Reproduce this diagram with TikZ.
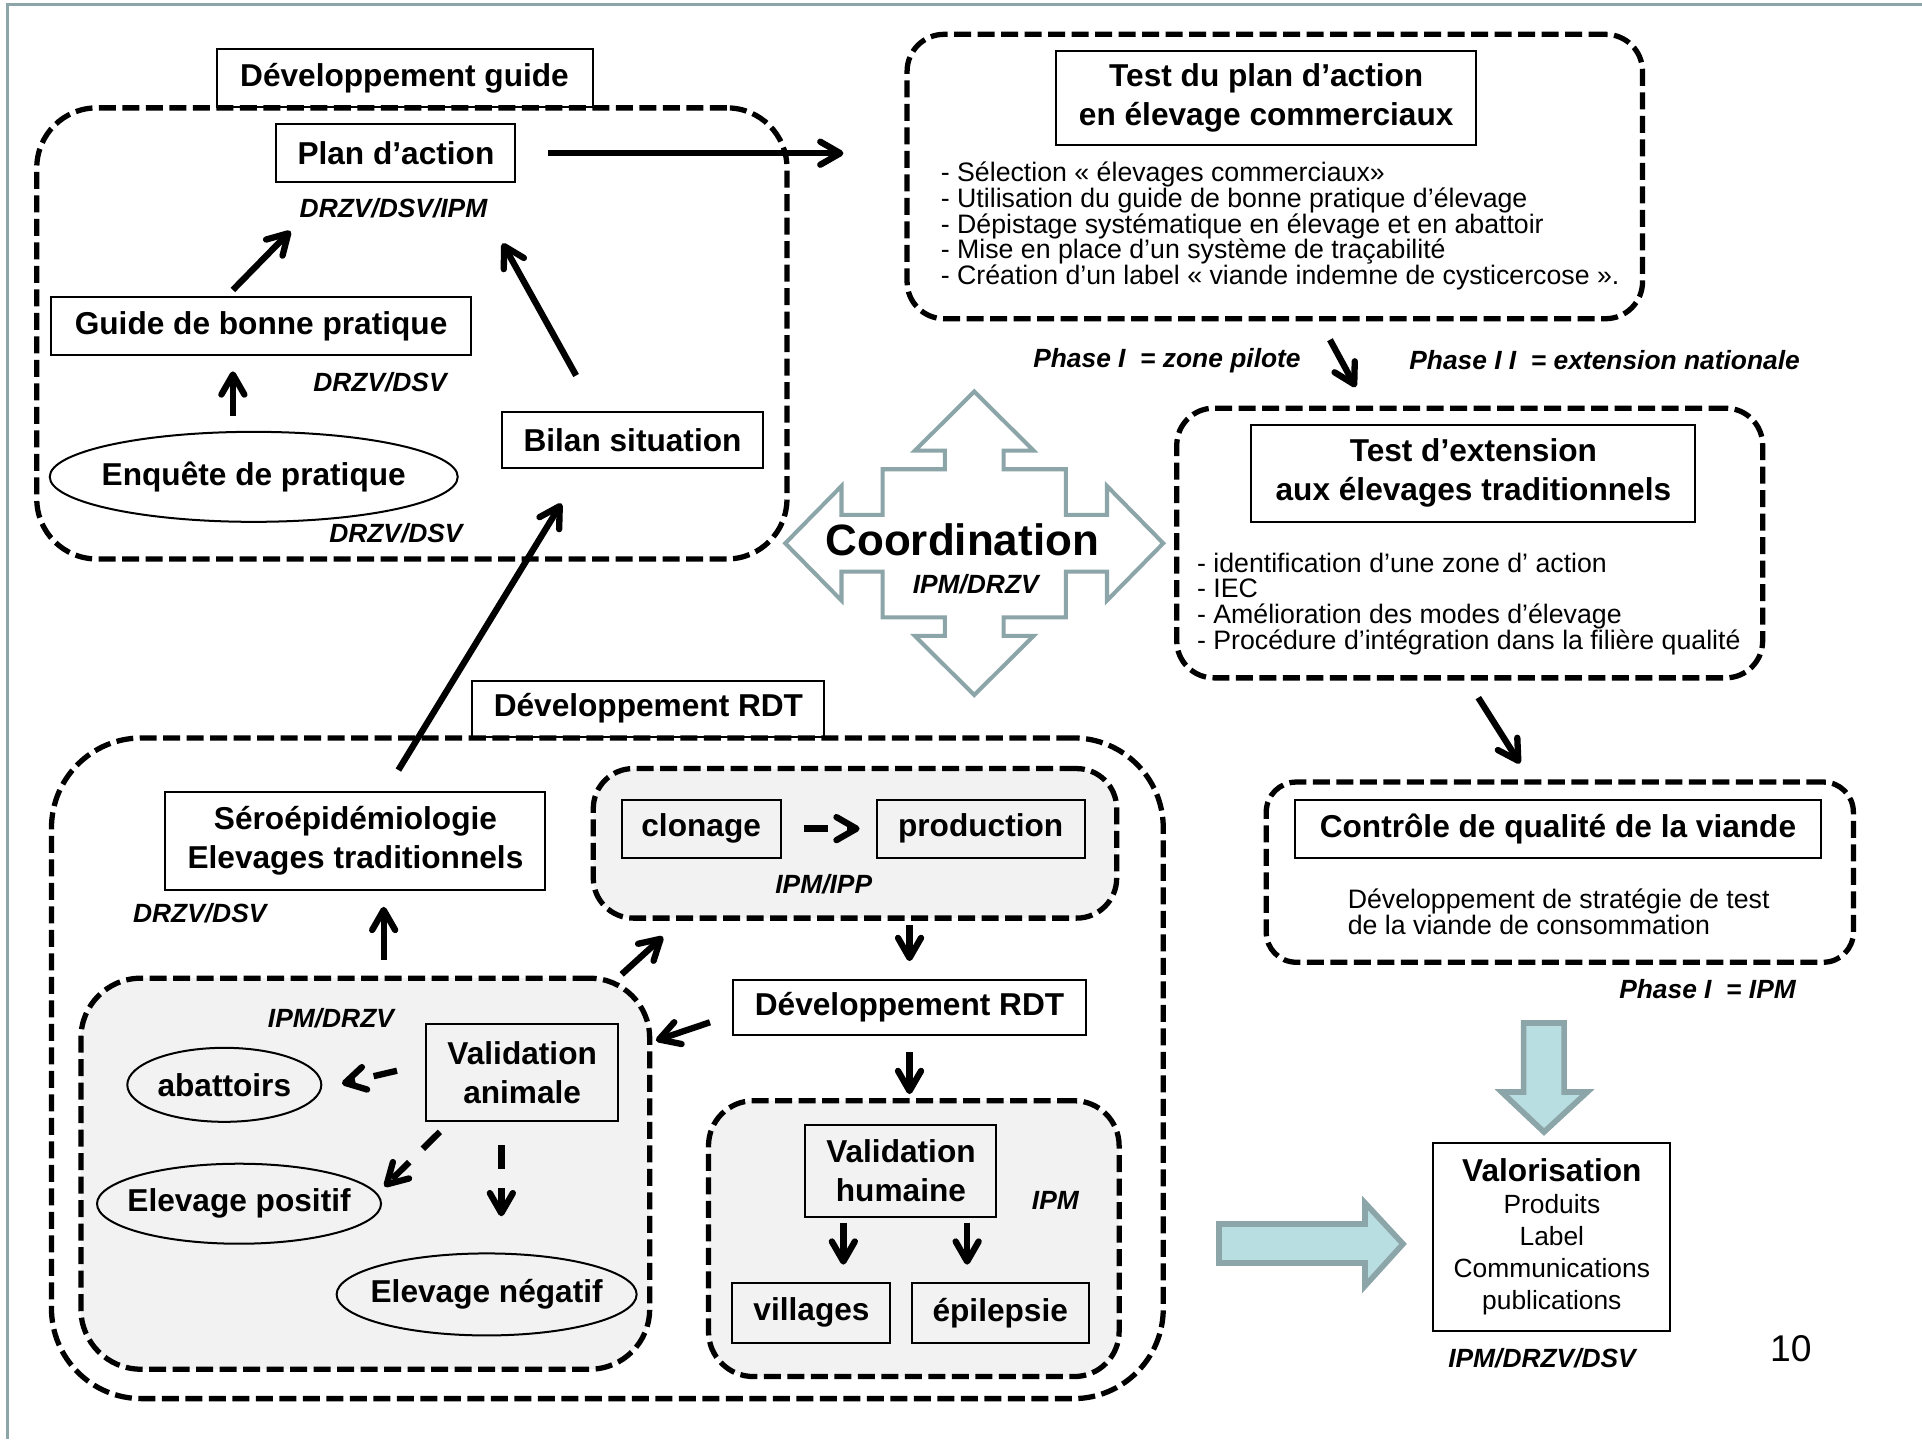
\documentclass[tikz,border=0pt]{standalone}
\usepackage{fontspec}
\setmainfont{Liberation Sans}
\usetikzlibrary{arrows.meta, shapes.geometric, fit, calc}
\definecolor{framecol}{HTML}{8CA5A8}
\definecolor{arrowfill}{HTML}{B9DEE2}
\definecolor{grpgray}{HTML}{F2F2F2}

\begin{document}
\begin{tikzpicture}[x=0.12258mm, y=-0.12258mm,
  box/.style={draw, line width=0.57pt, align=center, inner sep=0pt, font=\fontsize{9}{11}\selectfont\bfseries},
  oval/.style={ellipse, draw, line width=0.57pt, inner ysep=0pt, inner xsep=-1.5mm, font=\fontsize{9}{11}\selectfont\bfseries},
  grp/.style={draw, line width=1.5pt, dash pattern=on 1.7mm off 0.65mm, rounded corners=#1, inner sep=0pt},
  grp/.default=4mm,
  grpfill/.style={grp=#1, fill=grpgray},
  grpfill/.default=4mm,
  org/.style={inner sep=0pt, font=\fontsize{7.5}{9}\selectfont\bfseries\itshape},
  lst/.style={inner sep=0pt, anchor=west, align=left, font=\fontsize{7.6}{7.3}\selectfont},
  arr/.style={-{Straight Barb[length=2mm, width=2.3mm, round]}, line width=1.8pt},
  darr/.style={arr, dash pattern=on 2.4mm off 1.9mm},
  fatarrow/.style={draw=framecol, fill=arrowfill, line width=1.6pt, line join=miter},
  coordshape/.style={draw=framecol, fill=white, line width=1.15pt}]
\useasboundingbox (0,0) rectangle (1568,1174);
\draw[framecol, line width=0.77pt] (6.1,1174) -- (6.1,3.8) -- (1568,3.8);

% developpement du guide
\node[grp=6mm, fit={(30,88) (642,456)}] (gguide) {};
\node[box, minimum width=37.6mm, minimum height=5.8mm] (devguide) at (330,64) {Développement guide};
\node[box, minimum width=23.9mm, minimum height=5.8mm] (plan) at (323,125) {Plan d’action};
\node[org] (lblplan) at (321,170) {DRZV/DSV/IPM};
\node[box, minimum width=42mm, minimum height=5.8mm] (guidebp) at (213,266) {Guide de bonne pratique};
\node[org] (lblguide) at (310,312) {DRZV/DSV};
\node[oval, minimum width=40.8mm, minimum height=9mm] (enquete) at (207,389) {Enquête de pratique};
\node[org] (lblenq) at (323,435) {DRZV/DSV};
\node[box, minimum width=26.1mm, minimum height=5.6mm] (bilan) at (516,359) {Bilan situation};

% test du plan d'action
\node[grp=3.7mm, fit={(740,28) (1340,260)}] (gtest) {};
\node[box, minimum width=42mm, minimum height=9.4mm] (testplan) at (1033,80) {Test du plan d’action\\en élevage commerciaux};
\node[lst] (testlist) at (767,184.5) {- Sélection « élevages commerciaux»\\- Utilisation du guide de bonne pratique d’élevage\\- Dépistage systématique en élevage et en abattoir\\- Mise en place d’un système de traçabilité\\- Création d’un label « viande indemne de cysticercose ».};
\node[org] (phase1) at (952,294) {Phase I~~= zone pilote};
\node[org] (phase2) at (1309,294) {Phase I I~~= extension nationale};

% extension
\node[grp=3.7mm, fit={(960,333) (1438,553)}] (gext) {};
\node[box, minimum width=44.4mm, minimum height=9.7mm] (testext) at (1202,386) {Test d’extension\\aux élevages traditionnels};
\node[lst] (extlist) at (976,492.5) {- identification d’une zone d’ action\\- IEC\\- Amélioration des modes d’élevage\\- Procédure d’intégration dans la filière qualité};

% controle qualite
\node[grp=3mm, fit={(1033,638) (1512,785)}] (gctrl) {};
\node[box, minimum width=52.6mm, minimum height=5.8mm] (ctrl) at (1271,676) {Contrôle de qualité de la viande};
\node[lst] (ctrldesc) at (1099,744) {Développement de stratégie de test\\de la viande de consommation};
\node[org] (phaseipm) at (1393,807) {Phase I~~= IPM};

% valorisation
\node[box, minimum width=23.7mm, minimum height=18.8mm, font=\fontsize{7.5}{9.1}\selectfont] (valor) at (1266,1009) {{\fontsize{9}{10}\selectfont\bfseries Valorisation}\\Produits\\Label\\Communications\\publications};
\node[org] (lblvalor) at (1258,1108) {IPM/DRZV/DSV};
\node[inner sep=0pt, font=\fontsize{10.6}{12}\selectfont] (pagenum) at (1461,1100) {10};

% coordination
\begin{scope}[shift={(794.8,443.2)}]
\draw[coordshape] (0,-123.8) -- (-48.4,-75.6) -- (-23.9,-75.6) -- (-23.9,-60.4) -- (-74.8,-60.4) -- (-74.8,-23.1)
  -- (-108.3,-23.1) -- (-108.3,-46.7) -- (-154.2,0) -- (-108.3,46.7) -- (-108.3,23.1) -- (-74.8,23.1)
  -- (-74.8,60.4) -- (-23.9,60.4) -- (-23.9,75.6) -- (-48.4,75.6) -- (0,123.8) -- (48.4,75.6)
  -- (23.9,75.6) -- (23.9,60.4) -- (74.8,60.4) -- (74.8,23.1) -- (108.3,23.1) -- (108.3,46.7)
  -- (154.2,0) -- (108.3,-46.7) -- (108.3,-23.1) -- (74.8,-23.1) -- (74.8,-60.4) -- (23.9,-60.4)
  -- (23.9,-75.6) -- (48.4,-75.6) -- cycle;
\end{scope}
\node[inner sep=0pt, font=\fontsize{12.5}{14}\selectfont\bfseries] (coord) at (785,440) {Coordination};
\node[org] (lblcoord) at (796,477) {IPM/DRZV};

% grosses fleches
\draw[fatarrow] (1243,834.6) -- (1276,834.6) -- (1276,890.8) -- (1295,890.8) -- (1259.6,923.5) -- (1225,890.8) -- (1243,890.8) -- cycle;
\draw[fatarrow] (994.5,998.5) -- (1113.6,998.5) -- (1113.6,981.4) -- (1144.6,1014.8) -- (1113.6,1049) -- (1113.6,1030.4) -- (994.5,1030.4) -- cycle;

% developpement RDT
\node[grp=9mm, fit={(42,602) (949,1141)}] (grdt) {};
\node[box, minimum width=35.2mm, minimum height=5.6mm] (devrdt) at (529,578) {Développement RDT};
\node[box, minimum width=38mm, minimum height=9.8mm] (sero) at (290,686) {Séroépidémiologie\\Elevages traditionnels};
\node[org] (lblsero) at (163,745) {DRZV/DSV};

\node[grpfill=4mm, fit={(484,627) (911,749)}] (gclon) {};
\node[box, minimum width=15.9mm, minimum height=5.8mm] (clonage) at (572,676) {clonage};
\node[box, minimum width=20.8mm, minimum height=5.8mm] (production) at (800,676) {production};
\node[org] (lblclon) at (672,721) {IPM/IPP};

\node[box, minimum width=35.3mm, minimum height=5.5mm] (devrdt2) at (742,822) {Développement RDT};

\node[grpfill=6mm, fit={(66,798) (530,1117)}] (gval) {};
\node[org] (lblval) at (270,831) {IPM/DRZV};
\node[box, minimum width=19.2mm, minimum height=9.7mm] (validan) at (426,875) {Validation\\animale};
\node[oval, minimum width=19.4mm, minimum height=7.4mm] (abattoirs) at (183,885) {abattoirs};
\node[oval, minimum width=28.4mm, minimum height=8mm] (elevpos) at (195,982) {Elevage positif};
\node[oval, minimum width=30mm, minimum height=8.2mm] (elevneg) at (397,1056) {Elevage négatif};

\node[grpfill=4.5mm, fit={(578,898) (913,1123)}] (ghum) {};
\node[box, minimum width=19.1mm, minimum height=9.2mm] (validhum) at (735,955) {Validation\\humaine};
\node[org] (lblhum) at (861,979) {IPM};
\node[box, minimum width=15.8mm, minimum height=6mm] (villages) at (662,1071) {villages};
\node[box, minimum width=17.7mm, minimum height=6mm] (epilepsie) at (816,1071) {épilepsie};

% fleches
\draw[arr, shorten <=3.2mm, shorten >=6.1mm] (plan.east) -- (plan.east -| gtest.west);
\draw[arr] ($(guidebp.north)+(-23,-5)$) -- ($(plan.south)+(-86,39)$);
\draw[arr] ($(enquete.north)+(-17,-12.5)$) -- ($(guidebp.south)+(-23,12.5)$);
\draw[arr] ($(bilan.north)+(-46,-29)$) -- ($(plan.south)+(87,49)$);
\draw[arr] ($(sero.north)+(35,-17)$) -- ($(bilan.south)+(-58,28)$);
\draw[arr] ($(gtest.south)+(45,15)$) -- ($(gext.north)+(-93,-15)$);
\draw[arr] ($(gext.south)+(7,14)$) -- ($(gctrl.north)+(-32.5,-13)$);
\draw[arr] ($(gval.north)+(15,-13)$) -- ($(sero.south)+(23,13)$);
\draw[arr] ($(gval.north east)+(-25,-1)$) -- ($(gclon.south west)+(59,13)$);
\draw[darr, shorten <=2.2mm, shorten >=1.6mm] (clonage) -- (production);
\draw[arr, shorten <=0.4mm, shorten >=1.8mm] (devrdt2.north |- gclon.south) -- (devrdt2.north);
\draw[arr] ($(devrdt2.west)+(-18,12)$) -- ($(gval.north east)+(3,53)$);
\draw[arr, shorten <=1.6mm, shorten >=0.4mm] (devrdt2.south) -- (devrdt2.south |- ghum.north);
\draw[arr] ($(validhum.south)+(-47,4)$) -- ($(villages.north)+(26,-14)$);
\draw[arr] ($(validhum.south)+(54,4)$) -- ($(epilepsie.north)+(-27,-14)$);
\draw[darr] ($(validan.west)+(-23,-1.5)$) -- ($(abattoirs.east)+(16,-1)$);
\draw[darr] ($(validan.south west)+(12,8)$) -- ($(elevpos.east)+(2,-14)$);
\draw[darr] ($(validan.south)+(-17,19)$) -- ($(elevneg.north)+(12,-29.5)$);
\end{tikzpicture}
\end{document}
